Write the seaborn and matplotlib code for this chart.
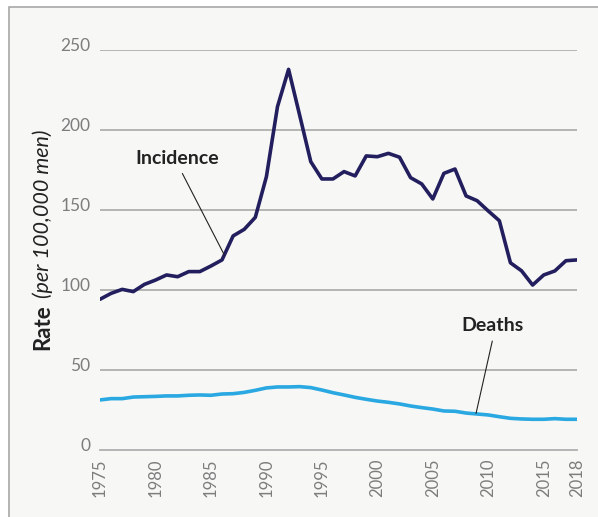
import numpy as np
import pandas as pd
import matplotlib
matplotlib.use("Agg")
import matplotlib.pyplot as plt
import seaborn as sns
from matplotlib.patches import Rectangle
from matplotlib.transforms import ScaledTranslation

# data
years = list(range(1975, 2019))
incidence = [94.2, 97.9, 100.4, 99.0, 103.5, 106.2, 109.4, 108.3, 111.5, 111.5,
             115.0, 118.8, 133.8, 137.9, 145.4, 170.8, 214.6, 237.9, 209.2, 180.2,
             169.4, 169.4, 174.0, 171.3, 183.8, 183.3, 185.4, 183.0, 170.2, 166.3,
             156.9, 172.9, 175.6, 158.8, 155.8, 149.4, 143.3, 117.0, 112.0, 103.1,
             109.4, 111.9, 118.3, 118.8]
deaths = [31.3, 32.1, 32.1, 33.1, 33.3, 33.5, 33.8, 33.8, 34.2, 34.4,
          34.2, 35.0, 35.2, 36.0, 37.3, 38.8, 39.4, 39.4, 39.6, 39.0,
          37.5, 35.8, 34.4, 32.9, 31.7, 30.6, 29.8, 28.8, 27.5, 26.5,
          25.6, 24.4, 24.2, 23.1, 22.5, 21.9, 20.8, 19.8, 19.4, 19.2,
          19.2, 19.6, 19.2, 19.2]
xticks = [1975, 1980, 1985, 1990, 1995, 2000, 2005, 2010, 2015, 2018]
yticks = [0, 50, 100, 150, 200, 250]

df = pd.DataFrame({"year": years, "Incidence": incidence, "Deaths": deaths})

sns.set_style("white")
plt.rcParams["font.family"] = ["Lato", "DejaVu Sans"]

W, H = 598, 517
fig = plt.figure(figsize=(W / 100, H / 100), dpi=100)
fig.patch.set_facecolor("white")

# light panel behind the chart
fig.patches.append(Rectangle((9 / W, -0.05), 1.1, 1 - 7 / H + 0.05,
                             transform=fig.transFigure, facecolor="#f7f7f5",
                             edgecolor="#a8a8a8", linewidth=1.2, zorder=-5))

ax = fig.add_axes([100 / W, 1 - 450 / H, 477 / W, 400 / H])
ax.set_facecolor("none")
ax.set_zorder(2)

grid_c = "#a9a9a9"
for v in yticks[1:]:
    ax.axhline(v, color=grid_c, lw=1.2, zorder=1)

sns.lineplot(data=df, x="year", y="Incidence", ax=ax, color="#231f5e", lw=2.6, zorder=3)
sns.lineplot(data=df, x="year", y="Deaths", ax=ax, color="#2aa8e2", lw=2.6, zorder=3)

ax.set_xlim(1975, 2018)
ax.set_ylim(0, 250)
ax.set_xticks(xticks)
ax.set_xticklabels([str(t) for t in xticks], rotation=90)
ax.set_yticks(yticks)
ax.set_xlabel("")
ax.set_ylabel("")

for s in ["top", "right", "left"]:
    ax.spines[s].set_visible(False)
ax.spines["bottom"].set_color("#b0b0b0")
ax.spines["bottom"].set_linewidth(1.3)

tick_c = "#7d7d7d"
ax.tick_params(axis="x", direction="in", length=6.5, width=1.2, color="#a9a9a9",
               labelcolor=tick_c, labelsize=12, pad=6)
ax.tick_params(axis="y", length=0, labelcolor=tick_c, labelsize=12.5, pad=7)
for lab in ax.get_yticklabels():
    lab.set_transform(lab.get_transform() + ScaledTranslation(0, 4 / 72, fig.dpi_scale_trans))

# y label: bold "Rate" plus italic rest
txt_c = "#222222"
fig.canvas.draw()
r = fig.canvas.get_renderer()
t1 = fig.text(43 / W, 1 - 350 / H, "Rate", rotation=90, ha="center", va="bottom",
              fontsize=16, fontweight="bold", color=txt_c)
bb = t1.get_window_extent(r)
fig.text(43 / W, (bb.y1 + 6) / H, "(per 100,000 men)", rotation=90, ha="center",
         va="bottom", fontsize=15.5, fontstyle="italic", color=txt_c)

# annotations with thin leader lines
ax.annotate("Incidence", xy=(1986.2, 122), xytext=(1981.95, 182.5),
            fontsize=14, fontweight="bold", color=txt_c, ha="center", va="center",
            arrowprops=dict(arrowstyle="-", color="#222222", lw=0.8, shrinkA=3,
                            shrinkB=0, relpos=(0.52, 0)))
ax.annotate("Deaths", xy=(2008.9, 22.9), xytext=(2010.4, 78),
            fontsize=14, fontweight="bold", color=txt_c, ha="center", va="center",
            arrowprops=dict(arrowstyle="-", color="#222222", lw=0.8, shrinkA=3,
                            shrinkB=0, relpos=(0.52, 0)))

fig.savefig("out.png", dpi=100)
